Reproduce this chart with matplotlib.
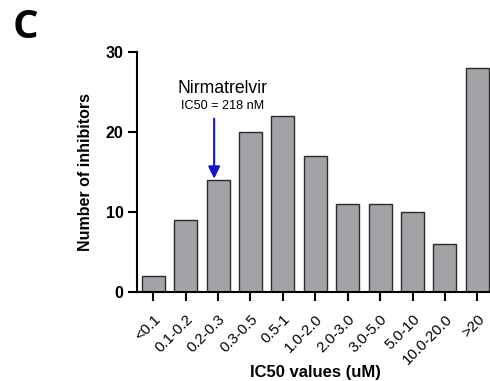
import matplotlib

matplotlib.use("Agg")
import matplotlib.pyplot as plt
import matplotlib.transforms as mtransforms

plt.rcParams["font.family"] = ["Liberation Sans", "DejaVu Sans"]

categories = ["<0.1", "0.1-0.2", "0.2-0.3", "0.3-0.5", "0.5-1", "1.0-2.0",
              "2.0-3.0", "3.0-5.0", "5.0-10", "10.0-20.0", ">20"]
counts = [2, 9, 14, 20, 22, 17, 11, 11, 10, 6, 28]
yticks = [0, 10, 20, 30]
arrow_idx = 2  # Nirmatrelvir bin

W, H = 490, 381
fig = plt.figure(figsize=(W / 100, H / 100), dpi=100)
ax = fig.add_axes([136.7 / W, 1 - 291.5 / H, (490 - 136.7) / W, (291.5 - 51.5) / H])

x = list(range(len(categories)))
ax.bar(x, counts, width=0.71, color="#a3a2a7", edgecolor="#2b2b2b", linewidth=1.0, zorder=2)

ax.set_xlim(-0.51, 10.39)
ax.set_ylim(0, 30)
ax.set_yticks(yticks)
ax.set_yticklabels([str(t) for t in yticks], fontsize=11.5, fontweight="bold")
ax.set_xticks(x)
ax.set_xticklabels(categories, rotation=45, ha="right", va="top",
                   rotation_mode="anchor", fontsize=10.8)
shift = mtransforms.ScaledTranslation(4 / 100, 0, fig.dpi_scale_trans)
for lbl in ax.get_xticklabels():
    lbl.set_transform(lbl.get_transform() + shift)

for side in ["top", "right"]:
    ax.spines[side].set_visible(False)
for side in ["left", "bottom"]:
    ax.spines[side].set_linewidth(1.5)
ax.tick_params(axis="both", width=1.5, length=6.5, color="black")
ax.tick_params(axis="x", pad=8.5)
ax.tick_params(axis="y", pad=3)

fig.text(85 / W, 1 - 172 / H, "Number of inhibitors", rotation=90, ha="center", va="center",
         fontsize=11.5, fontweight="bold")
fig.text(315 / W, 1 - 372 / H, "IC50 values (uM)", ha="center", va="center",
         fontsize=12, fontweight="bold")

# annotation
ax.annotate("", xy=(1.88, counts[arrow_idx] + 0.1), xytext=(1.88, 21.6),
            arrowprops=dict(arrowstyle="-|>,head_length=0.45,head_width=0.22", color="#1414c8",
                            lw=1.5, mutation_scale=16, shrinkA=0, shrinkB=0), zorder=3)
ax.text(arrow_idx + 0.15, 24.85, "Nirmatrelvir", ha="center", va="baseline", fontsize=12.7)
ax.text(arrow_idx + 0.13, 22.8, "IC50 = 218 nM", ha="center", va="baseline", fontsize=9.1)

fig.text(25 / W, 1 - 28 / H, "C", ha="center", va="center", fontsize=29, fontweight="bold",
         family=["Open Sans", "DejaVu Sans"])

fig.savefig("out.png", dpi=100, facecolor="white")
